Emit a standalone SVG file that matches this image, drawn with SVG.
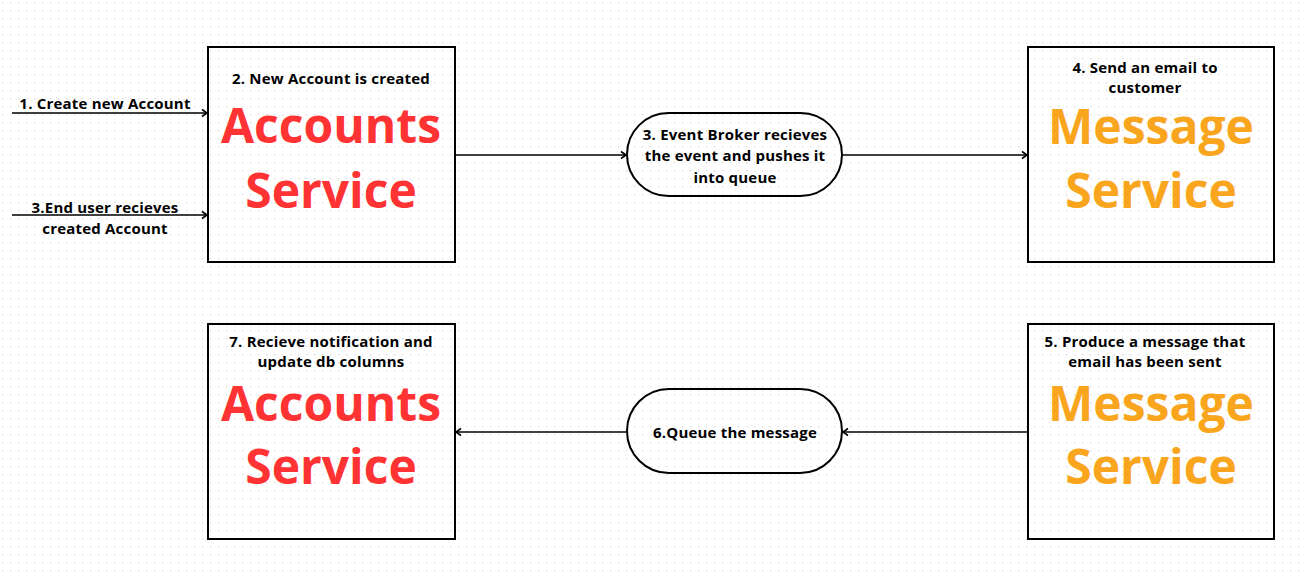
<svg xmlns="http://www.w3.org/2000/svg" width="1303" height="577" viewBox="0 0 1303 577">
<defs>
<pattern id="dots" width="8" height="8" patternUnits="userSpaceOnUse" x="0" y="0">
<rect x="2" y="2" width="1.3" height="1.3" fill="#d9d9d9"/>
</pattern>
<marker id="ah" markerWidth="10" markerHeight="10" refX="8" refY="5" orient="auto" markerUnits="userSpaceOnUse">
<path d="M3,1.5 L8,5 L3,8.5" fill="none" stroke="#000" stroke-width="1.6"/>
</marker>
</defs>
<style>
.box{fill:none;stroke:#000;stroke-width:2}
.pill{fill:none;stroke:#000;stroke-width:2}
.lbl{font-family:"Open Sans","Noto Sans",sans-serif;font-weight:700;font-size:15px;letter-spacing:0.2px;fill:#000;text-anchor:middle}
.big{font-family:"Open Sans","Noto Sans",sans-serif;font-weight:700;font-size:48px;text-anchor:middle}
.red{fill:#ff3333}
.org{fill:#f9a61e}
.conn{stroke:#000;stroke-width:1.6;fill:none;marker-end:url(#ah)}
</style>
<rect width="1303" height="577" fill="#ffffff"/>
<rect width="1303" height="577" fill="url(#dots)"/>

<g id="connectors">
<line class="conn" x1="12" y1="113" x2="207" y2="113"/>
<line class="conn" x1="12" y1="215" x2="207" y2="215"/>
<line class="conn" x1="456" y1="155" x2="626" y2="155"/>
<line class="conn" x1="843" y1="155" x2="1027" y2="155"/>
<line class="conn" x1="1027" y1="432" x2="843" y2="432"/>
<line class="conn" x1="626" y1="432" x2="456" y2="432"/>
<text class="lbl" x="105" y="109">1. Create new Account</text>
<text class="lbl" x="105" y="213">3.End user recieves</text>
<text class="lbl" x="105" y="234">created Account</text>
</g>

<g id="accounts-top">
<rect class="box" x="208" y="47" width="247" height="215"/>
<text class="lbl" x="331" y="84">2. New Account is created</text>
<text class="big red" x="331" y="143">Accounts</text>
<text class="big red" x="331" y="208">Service</text>
</g>

<g id="broker-top">
<rect class="pill" x="627" y="113" width="215" height="83" rx="41.5" ry="41.5"/>
<text class="lbl" x="735" y="140">3. Event Broker recieves</text>
<text class="lbl" x="735" y="161">the event and pushes it</text>
<text class="lbl" x="735" y="183">into queue</text>
</g>

<g id="message-top">
<rect class="box" x="1028" y="47" width="246" height="215"/>
<text class="lbl" x="1145" y="73">4. Send an email to</text>
<text class="lbl" x="1145" y="93">customer</text>
<text class="big org" x="1151" y="144">Message</text>
<text class="big org" x="1151" y="208">Service</text>
</g>

<g id="message-bottom">
<rect class="box" x="1028" y="324" width="246" height="215"/>
<text class="lbl" x="1145" y="347">5. Produce a message that</text>
<text class="lbl" x="1145" y="367">email has been sent</text>
<text class="big org" x="1151" y="421">Message</text>
<text class="big org" x="1151" y="484">Service</text>
</g>

<g id="queue-bottom">
<rect class="pill" x="627" y="389" width="215" height="84" rx="42" ry="42"/>
<text class="lbl" x="735" y="438">6.Queue the message</text>
</g>

<g id="accounts-bottom">
<rect class="box" x="208" y="324" width="247" height="215"/>
<text class="lbl" x="331" y="347">7. Recieve notification and</text>
<text class="lbl" x="331" y="367">update db columns</text>
<text class="big red" x="331" y="421">Accounts</text>
<text class="big red" x="331" y="484">Service</text>
</g>
</svg>
